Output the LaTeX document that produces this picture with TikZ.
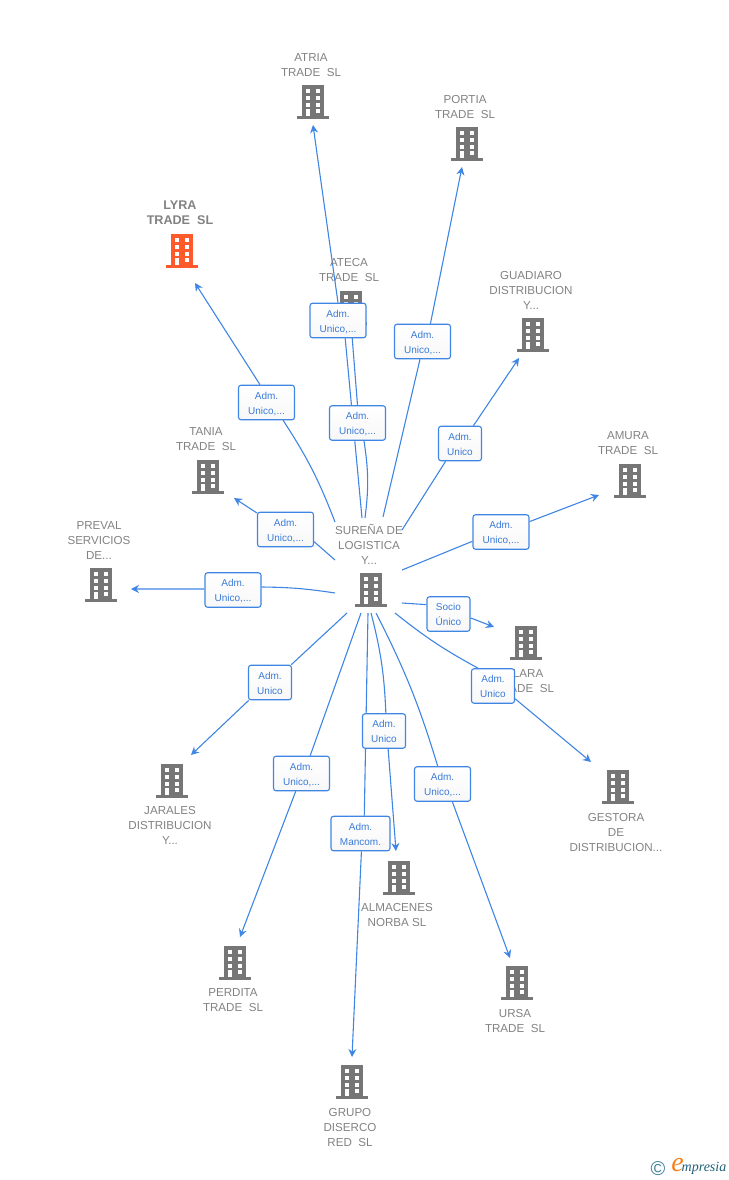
\documentclass[tikz,border=0pt]{standalone}
\usepackage{fontspec}
\setmainfont{Liberation Sans}
\newfontfamily\logofont{Liberation Serif}
\usetikzlibrary{arrows.meta,backgrounds}
\definecolor{linkblue}{HTML}{3F85E4}
\definecolor{boxtext}{HTML}{3B7BD8}
\definecolor{nametext}{HTML}{828282}
\definecolor{bldggray}{HTML}{767676}
\definecolor{bldgred}{HTML}{FF5A2B}
\definecolor{logoteal}{HTML}{3F7F96}
\definecolor{logodark}{HTML}{1F5F78}
\definecolor{logoorange}{HTML}{F58220}
\newcommand{\linktxt}[2]{\raisebox{-1.5pt}[7pt][2pt]{#1}\\\raisebox{-1.5pt}[7pt][2pt]{#2}}
\tikzset{
  bldg/.style={minimum width=32pt,minimum height=34pt,inner sep=0pt,
    path picture={
      \begin{scope}[shift={(path picture bounding box.center)}]
        \fill[#1] (-11,-17) rectangle (11,15);
        \fill[#1] (-16,14) rectangle (16,17);
        \foreach \wx/\wy in {-7/-12.7,3/-12.7,-7/-6,3/-6,-7/0.7,3/0.7,3/6.7}{
          \fill[white] (\wx,\wy) rectangle ++(4.3,4);
        }
        \fill[white] (-7,6.7) rectangle (-2.7,14);
      \end{scope}
    }},
  bldg/.default=bldggray,
  bldgname/.style={text=nametext,align=center,inner sep=0pt,font=\fontsize{11.6}{15}\selectfont},
  linkbox/.style={draw=linkblue,line width=1.1pt,top color=white,bottom color=black!3,rounded corners=2.5pt,text=boxtext,align=center,
    inner sep=0pt,minimum height=34.5pt,font=\fontsize{10}{15}\selectfont},
  link/.style={draw=linkblue,line width=1.1pt},
  linktip/.style={link,-{Stealth[length=8pt,width=8pt]}},
}
\begin{document}
\begin{tikzpicture}[x=1pt,y=-1pt]
  \useasboundingbox (0,0) rectangle (728,1180);

  % buildings and their names
  \foreach \nm/\x/\y/\ty/\txt in {
    atria/313/102/65/{ATRIA\\TRADE\ \ SL},
    portia/467/144/107/{PORTIA\\TRADE\ \ SL},
    ateca/351/308/270/{ATECA\\TRADE\ \ SL},
    guadiaro/533/335/290/{GUADIARO\\DISTRIBUCION\\Y...},
    tania/208/477/439/{TANIA\\TRADE\ \ SL},
    amura/630/481/443/{AMURA\\TRADE\ \ SL},
    preval/101/585/540.5/{PREVAL\\SERVICIOS\\DE...},
    surena/371/590/544.5/{SUREÑA DE\\LOGISTICA\\Y...},
    clara/526/643/681/{CLARA\\TRADE\ \ SL},
    jarales/172/781/825.5/{JARALES\\DISTRIBUCION\\Y...},
    gestora/618/787/832.5/{GESTORA\\DE\\DISTRIBUCION...},
    almacenes/399/878/915/{ALMACENES\\NORBA SL},
    perdita/235/963/1000/{PERDITA\\TRADE\ \ SL},
    ursa/517/983/1021/{URSA\\TRADE\ \ SL},
    grupo/352/1082/1127.5/{GRUPO\\DISERCO\\RED\ \ SL}}{
    \node[bldg] (\nm) at (\x,\y) {};
    \node[bldgname] (\nm name) at (\x-2,\ty) {\txt};
  }
  \node[bldg=bldgred] (lyra) at (182,251) {};
  \node[bldgname,font=\fontsize{12.6}{15}\selectfont\bfseries] (lyra name) at (180,213) {LYRA\\TRADE\ \ SL};

  % free ends of the links
  \foreach \nm/\sx/\sy/\ex/\ey in {
    atria/362/518/313/125, ateca/365/518/350/310, portia/383/517/462/167,
    lyra/335/522/195/283, guadiaro/402/530/519/358, tania/335/560/234/498,
    amura/402/570/599/495, preval/335/593/131/589, clara/402/603/494/627,
    gestora/395/613/591/762, jarales/347/613/191/755, perdita/361/613/240/937,
    grupo/368/613/352/1057, almacenes/371/613/396/851, ursa/376/613/510/958}{
    \coordinate (\nm from) at (\sx,\sy);
    \coordinate (\nm to) at (\ex,\ey);
  }

  % link boxes
  \foreach \nm/\x/\y/\w/\txt in {
    atria/338/320.5/56/{\linktxt{Adm.}{Unico,...}},
    portia/422.5/341.5/56/{\linktxt{Adm.}{Unico,...}},
    lyra/266.5/402.5/56/{\linktxt{Adm.}{Unico,...}},
    ateca/357.5/423/56/{\linktxt{Adm.}{Unico,...}},
    guadiaro/460/443.5/43/{\linktxt{Adm.}{Unico}},
    tania/285.5/529.5/56/{\linktxt{Adm.}{Unico,...}},
    amura/501/532/56/{\linktxt{Adm.}{Unico,...}},
    preval/233/590/56/{\linktxt{Adm.}{Unico,...}},
    clara/448.5/614/43/{\linktxt{Socio}{Único}},
    gestora/493/686/43/{\linktxt{Adm.}{Unico}},
    jarales/270/682.5/43/{\linktxt{Adm.}{Unico}},
    perdita/301.5/773.5/56/{\linktxt{Adm.}{Unico,...}},
    almacenes/384/731/43/{\linktxt{Adm.}{Unico}},
    grupo/360.5/833.5/59/{\linktxt{Adm.}{Mancom.}},
    ursa/442.5/784/56/{\linktxt{Adm.}{Unico,...}}}{
    \node[linkbox,minimum width=\w pt] (\nm box) at (\x,\y) {\txt};
  }

  \begin{scope}[on background layer]
    \foreach \nm/\ba/\ia/\oa in {
      atria/0/-68/90, ateca/-8/-70/90, portia/0/-98/66, lyra/-6/-47/110,
      guadiaro/0/-129/53, tania/0/-23/150, amura/0/-162/20, preval/-4/6/178,
      clara/0/157/-10, gestora/-5/130/-30, jarales/0/40/-140, perdita/0/64/-108,
      grupo/0/78/-87, almacenes/6/84/-77, ursa/5/105/-61}{
      \draw[link] (\nm from) to[bend left=\ba] (\nm box.\ia);
      \draw[linktip] (\nm box.\oa) -- (\nm to);
    }
  \end{scope}

  % footer mark
  \node[text=logoteal,font=\fontsize{20}{20}\selectfont] (copyright) at (658,1169) {©};
  \node[text=logoorange,font=\logofont\itshape\fontsize{28}{28}\selectfont] (logoe) at (677.5,1165) {e};
  \node[text=logodark,font=\logofont\itshape\fontsize{14}{14}\selectfont] (logoname) at (704,1168) {mpresia};
\end{tikzpicture}
\end{document}
